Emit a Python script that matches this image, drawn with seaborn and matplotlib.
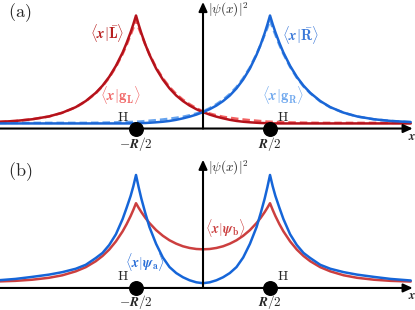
import matplotlib
matplotlib.use("Agg")
import matplotlib.pyplot as plt
import seaborn as sns

sns.set_style("white")
plt.rcParams["mathtext.fontset"] = "cm"
plt.rcParams["font.family"] = ["DejaVu Serif"]

# x positions (units of R/2), x >= 0 half; full grid is its mirror
x_half = [0.0, 0.1, 0.2, 0.3, 0.4, 0.5, 0.6, 0.7, 0.8, 0.86, 0.92, 0.96, 1.0,
          1.04, 1.08, 1.14, 1.2, 1.3, 1.4, 1.5, 1.6, 1.75, 1.9, 2.1, 2.3,
          2.55, 2.8, 3.1]
x_grid = [-v for v in x_half[:0:-1]] + x_half

# panel (a): right-centred orbitals on the full grid (left ones are mirrors)
R_bar = [0.045, 0.045, 0.045, 0.045, 0.045, 0.045, 0.045, 0.045, 0.045, 0.045,
         0.045, 0.045, 0.045, 0.045, 0.045, 0.046, 0.047, 0.048, 0.049, 0.051,
         0.055, 0.06, 0.067, 0.077, 0.09, 0.105, 0.123,
         0.145,
         0.171, 0.203, 0.243, 0.292, 0.355, 0.434, 0.531, 0.654, 0.742, 0.843,
         0.918, 1.0, 0.923, 0.852, 0.757, 0.672, 0.554, 0.457, 0.379, 0.316,
         0.243, 0.189, 0.140, 0.107, 0.082, 0.067, 0.057]
g_R = [0.05, 0.05, 0.05, 0.05, 0.05, 0.05, 0.05, 0.051, 0.052, 0.053,
       0.054, 0.056, 0.057, 0.058, 0.059, 0.06, 0.061, 0.063, 0.066, 0.069,
       0.074, 0.08, 0.087, 0.095, 0.104, 0.117, 0.133,
       0.152,
       0.18, 0.215, 0.255, 0.305, 0.367, 0.445, 0.54, 0.66, 0.74, 0.83,
       0.89, 0.96, 0.89, 0.83, 0.74, 0.66, 0.545, 0.45, 0.373, 0.312,
       0.24, 0.187, 0.139, 0.106, 0.082, 0.067, 0.057]
L_bar = R_bar[::-1]
g_L = g_R[::-1]

# panel (b): symmetric curves, given on x_half
psi_a_half = [0.042, 0.050, 0.068, 0.095, 0.132, 0.185, 0.27, 0.39, 0.54, 0.66,
              0.79, 0.89, 1.0, 0.90, 0.815, 0.71, 0.61, 0.475, 0.38, 0.31,
              0.265, 0.205, 0.17, 0.14, 0.118, 0.098, 0.08, 0.066]
psi_b_half = [0.342, 0.345, 0.354, 0.369, 0.392, 0.422, 0.462, 0.512, 0.575, 0.620,
              0.671, 0.709, 0.75, 0.691, 0.637, 0.565, 0.501, 0.412, 0.340, 0.283,
              0.237, 0.184, 0.147, 0.112, 0.090, 0.073, 0.063, 0.057]
psi_a = psi_a_half[:0:-1] + psi_a_half
psi_b = psi_b_half[:0:-1] + psi_b_half

nuclei_x = [-1, 1]
tick_text = [r"$\boldsymbol{-R/2}$", r"$\boldsymbol{R/2}$"]

fig = plt.figure(figsize=(4.15, 3.1), dpi=100)
ax_a = fig.add_axes([0, 160 / 310, 1, 150 / 310])
ax_b = fig.add_axes([0, 0, 1, 160 / 310])

lw = 1.8
dash = (0, (3, 1.6))

sns.lineplot(x=x_grid, y=L_bar, ax=ax_a, color="#b5121b", lw=lw, zorder=3)
sns.lineplot(x=x_grid, y=g_L, ax=ax_a, color="#f26161", lw=lw, ls=dash, zorder=2)
sns.lineplot(x=x_grid, y=R_bar, ax=ax_a, color="#1a66d6", lw=lw, zorder=3)
sns.lineplot(x=x_grid, y=g_R, ax=ax_a, color="#66a3ee", lw=lw, ls=dash, zorder=2)

sns.lineplot(x=x_grid, y=psi_b, ax=ax_b, color="#cc3f3f", lw=lw, zorder=3)
sns.lineplot(x=x_grid, y=psi_a, ax=ax_b, color="#1565d8", lw=lw, zorder=3)

arrow = dict(arrowstyle="-|>,head_length=0.55,head_width=0.25",
             lw=1.5, color="black", shrinkA=0, shrinkB=0)

for ax, ylim, ytip, ytick in [(ax_a, (-0.19, 1.137), 1.12, -0.135),
                              (ax_b, (-0.195, 1.221), 1.135, -0.125)]:
    ax.set_xlim(-3.03, 3.164)
    ax.set_ylim(*ylim)
    ax.axis("off")
    ax.annotate("", xy=(3.13, 0), xytext=(-3.1, 0), arrowprops=arrow, zorder=4)
    ax.annotate("", xy=(0, ytip), xytext=(0, 0), arrowprops=arrow, zorder=4)
    ax.scatter(nuclei_x, [0, 0], s=95, color="black", zorder=6, clip_on=False)
    for xn, t in zip(nuclei_x, tick_text):
        ax.text(xn, ytick, t, ha="center", va="center", fontsize=9.5)
    ax.text(3.12, -0.068, r"$\boldsymbol{x}$", ha="center", va="center", fontsize=9)
    ax.text(0.07, ytip - 0.07, r"$|\psi(x)|^2$", ha="left", va="center", fontsize=9.5)
    ax.text(-1.2, 0.105, r"$\mathrm{H}$", ha="center", va="center", fontsize=10)
    ax.text(1.19, 0.105, r"$\mathrm{H}$", ha="center", va="center", fontsize=10)

ax_a.text(-1.43, 0.845, r"$\langle \boldsymbol{x}|\bar{\mathbf{L}}\rangle$",
          color="#b82020", ha="center", va="center", fontsize=10.5)
ax_a.text(-1.24, 0.296, r"$\langle \boldsymbol{x}|\mathbf{g}_{\mathbf{L}}\rangle$",
          color="#f06666", ha="center", va="center", fontsize=10.5)
ax_a.text(1.45, 0.83, r"$\langle \boldsymbol{x}|\bar{\mathbf{R}}\rangle$",
          color="#3a78d8", ha="center", va="center", fontsize=10.5)
ax_a.text(1.19, 0.296, r"$\langle \boldsymbol{x}|\mathbf{g}_{\mathbf{R}}\rangle$",
          color="#6fa8ee", ha="center", va="center", fontsize=10.5)
ax_b.text(-0.87, 0.23, r"$\langle \boldsymbol{x}|\boldsymbol{\psi}_{\mathbf{a}}\rangle$",
          color="#2a6fd8", ha="center", va="center", fontsize=10)
ax_b.text(0.33, 0.53, r"$\langle \boldsymbol{x}|\boldsymbol{\psi}_{\mathbf{b}}\rangle$",
          color="#cc4444", ha="center", va="center", fontsize=10)

fig.text(20 / 415, 1 - 13 / 310, r"$\mathrm{(a)}$", ha="center", va="center", fontsize=13)
fig.text(20 / 415, 1 - 172 / 310, r"$\mathrm{(b)}$", ha="center", va="center", fontsize=13)

fig.savefig("out.png", dpi=100)
